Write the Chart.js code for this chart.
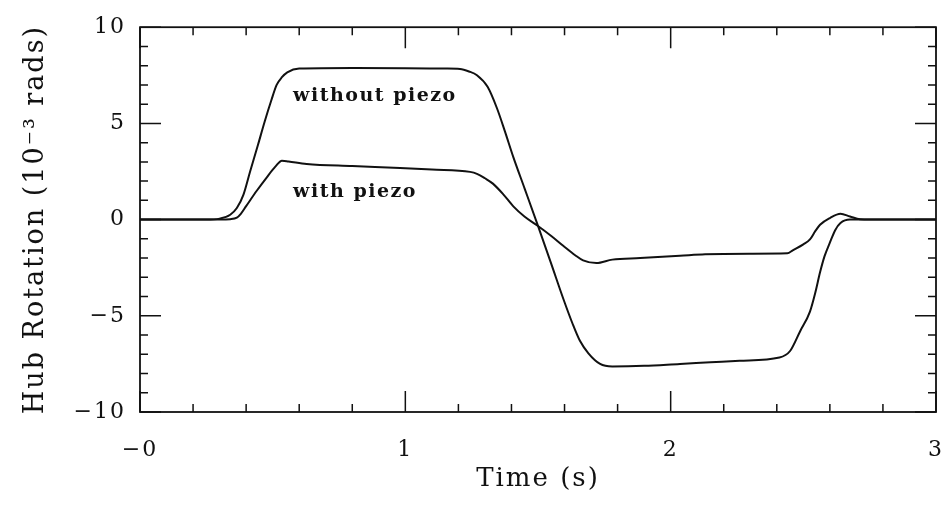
<!DOCTYPE html>
<html>
<head>
<meta charset="utf-8">
<script src="https://cdn.jsdelivr.net/npm/chart.js@4.4.1/dist/chart.umd.min.js"></script>
<style>
  html, body { margin: 0; padding: 0; background: #fff; }
  #wrap { width: 946px; height: 505px; }
</style>
</head>
<body>
<div id="wrap"><canvas id="hub"></canvas></div>
<script>
  // Hub rotation response (time in s, rotation in 1e-3 rad)
  var timeWithout = [0, 0.25, 0.30, 0.34, 0.365, 0.39, 0.415, 0.445, 0.47, 0.495, 0.515, 0.535, 0.555, 0.60, 0.80, 1.00, 1.15, 1.206, 1.24, 1.27, 1.31, 1.345, 1.375, 1.407, 1.45, 1.50, 1.55, 1.595, 1.63, 1.658, 1.69, 1.734, 1.78, 1.90, 2.035, 2.15, 2.26, 2.41, 2.45, 2.488, 2.525, 2.545, 2.563, 2.58, 2.60, 2.62, 2.64, 2.676, 3.0];
  var rotWithout = [0, 0, 0.05, 0.25, 0.6, 1.3, 2.5, 3.9, 5.1, 6.2, 7.0, 7.4, 7.65, 7.85, 7.88, 7.87, 7.85, 7.83, 7.7, 7.5, 6.9, 5.8, 4.6, 3.25, 1.6, -0.33, -2.3, -4.1, -5.4, -6.3, -6.95, -7.5, -7.63, -7.6, -7.5, -7.42, -7.34, -7.17, -6.83, -5.8, -4.78, -3.8, -2.74, -1.9, -1.2, -0.55, -0.18, 0, 0];

  var timeWith = [0, 0.30, 0.34, 0.365, 0.38, 0.40, 0.44, 0.478, 0.51, 0.535, 0.56, 0.628, 0.80, 0.98, 1.10, 1.244, 1.27, 1.30, 1.33, 1.37, 1.407, 1.45, 1.50, 1.55, 1.595, 1.64, 1.67, 1.72, 1.78, 1.885, 2.035, 2.13, 2.30, 2.44, 2.46, 2.50, 2.525, 2.545, 2.563, 2.60, 2.64, 2.676, 2.714, 2.75, 3.0];
  var rotWith = [0, 0, 0.02, 0.1, 0.3, 0.7, 1.5, 2.2, 2.75, 3.06, 3.02, 2.89, 2.78, 2.68, 2.6, 2.48, 2.38, 2.15, 1.87, 1.3, 0.69, 0.15, -0.33, -0.85, -1.36, -1.85, -2.12, -2.26, -2.08, -2.0, -1.88, -1.8, -1.77, -1.75, -1.6, -1.29, -1.03, -0.6, -0.27, 0.08, 0.3, 0.16, 0.02, 0, 0];

  var xTickValues = [0, 1, 2, 3];
  var xTickText = ['\u22120', '1', '2', '3'];
  var yTickValues = [-10, -5, 0, 5, 10];
  var yTickText = ['\u221210', '\u22125', '0', '5', '10'];

  var seriesNames = ['without piezo', 'with piezo'];
  var labelAnchors = [[0.577, 6.4], [0.577, 1.45]];

  function toPoints(xs, ys) {
    var pts = [];
    for (var i = 0; i < xs.length; i++) pts.push({ x: xs[i], y: ys[i] });
    return pts;
  }

  function lookup(values, texts, v) {
    for (var i = 0; i < values.length; i++) {
      if (Math.abs(values[i] - v) < 1e-6) return texts[i];
    }
    return '';
  }

  var SERIF = "'DejaVu Serif', serif";

  // frame, inward ticks on all four sides, curve labels
  var framePlugin = {
    id: 'frame',
    beforeDraw: function(chart) {
      chart.ctx.letterSpacing = '2px';
    },
    afterDraw: function(chart) {
      var ctx = chart.ctx;
      var a = chart.chartArea;
      var xs = chart.scales.x, ys = chart.scales.y;
      ctx.save();
      ctx.strokeStyle = '#111';
      ctx.lineWidth = 1.8;
      ctx.strokeRect(a.left, a.top, a.right - a.left, a.bottom - a.top);

      ctx.lineWidth = 1.5;
      ctx.beginPath();
      xs.ticks.forEach(function(t) {
        var px = xs.getPixelForValue(t.value);
        var major = Math.abs(t.value - Math.round(t.value)) < 1e-6;
        var len = major ? 21 : 8;
        ctx.moveTo(px, a.bottom); ctx.lineTo(px, a.bottom - len);
        ctx.moveTo(px, a.top); ctx.lineTo(px, a.top + len);
      });
      ys.ticks.forEach(function(t) {
        var py = ys.getPixelForValue(t.value);
        var major = Math.abs(t.value % 5) < 1e-6;
        var len = major ? 21 : 8;
        ctx.moveTo(a.left, py); ctx.lineTo(a.left + len, py);
        ctx.moveTo(a.right, py); ctx.lineTo(a.right - len, py);
      });
      ctx.stroke();

      ctx.fillStyle = '#111';
      ctx.font = 'bold 19px ' + SERIF;
      ctx.letterSpacing = '1.5px';
      ctx.textAlign = 'left';
      ctx.textBaseline = 'middle';
      for (var i = 0; i < seriesNames.length; i++) {
        ctx.fillText(seriesNames[i], xs.getPixelForValue(labelAnchors[i][0]), ys.getPixelForValue(labelAnchors[i][1]));
      }
      ctx.restore();
      ctx.letterSpacing = '0px';
    }
  };

  var lineStyle = {
    borderColor: '#111',
    borderWidth: 2,
    pointRadius: 0,
    fill: false,
    cubicInterpolationMode: 'monotone'
  };

  new Chart(document.getElementById('hub'), {
    type: 'line',
    data: {
      datasets: [
        Object.assign({ label: seriesNames[0], data: toPoints(timeWithout, rotWithout) }, lineStyle),
        Object.assign({ label: seriesNames[1], data: toPoints(timeWith, rotWith) }, lineStyle)
      ]
    },
    options: {
      responsive: true,
      maintainAspectRatio: false,
      animation: false,
      layout: { padding: { top: 21, right: 10, left: 0, bottom: 0 } },
      plugins: {
        legend: { display: false },
        tooltip: { enabled: false }
      },
      scales: {
        x: {
          type: 'linear',
          min: 0,
          max: 3,
          grid: { display: false, drawTicks: false },
          border: { display: false },
          afterFit: function(scale) {
            scale.height = 93;
            scale.paddingLeft = 0;
            scale.paddingRight = 0;
          },
          ticks: {
            stepSize: 0.2,
            autoSkip: false,
            maxRotation: 0,
            padding: 25,
            color: '#111',
            font: { family: SERIF, size: 22 },
            callback: function(v) { return lookup(xTickValues, xTickText, v); }
          },
          title: {
            display: true,
            text: 'Time (s)',
            color: '#111',
            font: { family: SERIF, size: 26 },
            padding: { top: 0, bottom: 10 }
          }
        },
        y: {
          type: 'linear',
          min: -10,
          max: 10,
          grid: { display: false, drawTicks: false },
          border: { display: false },
          afterFit: function(scale) { scale.width = 140; },
          ticks: {
            stepSize: 1,
            autoSkip: false,
            padding: 14,
            color: '#111',
            font: { family: SERIF, size: 22 },
            callback: function(v) { return lookup(yTickValues, yTickText, v); }
          },
          title: {
            display: true,
            text: 'Hub Rotation (10\u207B\u00B3 rads)',
            color: '#111',
            font: { family: SERIF, size: 27 },
            padding: { top: 20, bottom: 0 }
          }
        }
      }
    },
    plugins: [framePlugin]
  });
</script>
</body>
</html>
